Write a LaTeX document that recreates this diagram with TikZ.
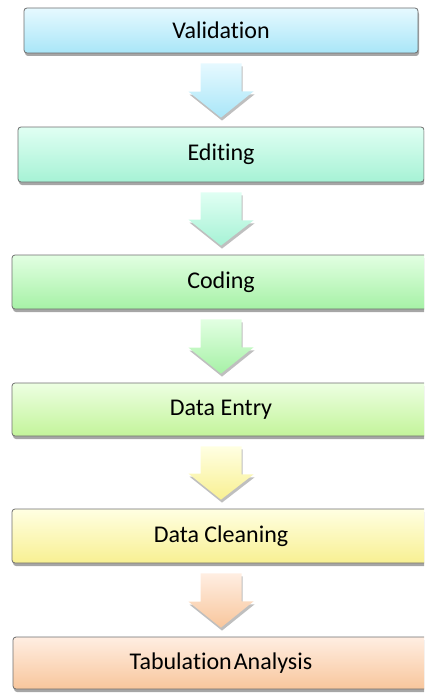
\documentclass[tikz,border=0pt]{standalone}
\usepackage{fontspec}
\setmainfont{Carlito}[Ligatures=NoCommon]
\usetikzlibrary{shadows,calc}
\definecolor{c1t}{HTML}{E6F9FF}\definecolor{c1b}{HTML}{A9E6F8}
\definecolor{c2t}{HTML}{E0FFF3}\definecolor{c2b}{HTML}{A6F2D5}
\definecolor{c3t}{HTML}{E2FFE2}\definecolor{c3b}{HTML}{A6F1A6}
\definecolor{c4t}{HTML}{EDFFE2}\definecolor{c4b}{HTML}{C3F49A}
\definecolor{c5t}{HTML}{FFFFE2}\definecolor{c5b}{HTML}{F8F092}
\definecolor{c6t}{HTML}{FFEEE2}\definecolor{c6b}{HTML}{F8C69C}
\definecolor{edge}{HTML}{6E6E6E}
\tikzset{
  stepbox/.style={draw=edge, line width=0.8pt, rounded corners=3pt,
    minimum height=#1, inner sep=0pt,
    font=\fontsize{24}{28}\selectfont,
    drop shadow={shadow xshift=1pt, shadow yshift=-3pt, opacity=0.35, fill=black}},
  blockarr/.style={draw=none,
    drop shadow={shadow xshift=1pt, shadow yshift=-3pt, opacity=0.25, fill=black}}
}
\newcommand\blockarrow[4]{% from node #1 to node #2, colours #3 #4
  \path[blockarr, top color=#3, bottom color=#4]
    ([shift={(-20.5,10)}]#1.south) -- ++(41,0) -- ++(0,28) -- ++(12,0)
    -- ($(#2.north)+(0,-9)$) -- ++(-32.5,-26) -- ++(12,0) -- cycle;
}
\begin{document}
\begin{tikzpicture}[x=1pt,y=-1pt]
\useasboundingbox (0,0) rectangle (424,693);
\clip (0,0) rectangle (424,693);
\node[stepbox=45, minimum width=394, top color=c1t, bottom color=c1b] (v) at (221,30.5) {Validation};
\node[stepbox=55, minimum width=406, top color=c2t, bottom color=c2b] (e) at (221,154.5) {Editing};
\node[stepbox=54, minimum width=418, top color=c3t, bottom color=c3b] (c) at (221,282) {Coding};
\node[stepbox=53, minimum width=418, top color=c4t, bottom color=c4b] (d) at (221,409.5) {Data Entry};
\node[stepbox=54, minimum width=418, top color=c5t, bottom color=c5b] (dc) at (221,536) {Data Cleaning};
\node[stepbox=52, minimum width=416, top color=c6t, bottom color=c6b] (t) at (221,663) {Tabulation\hspace{2pt}Analysis};
\blockarrow{v}{e}{c1t}{c1b}
\blockarrow{e}{c}{c2t}{c2b}
\blockarrow{c}{d}{c3t}{c3b}
\blockarrow{d}{dc}{c5t}{c5b}
\blockarrow{dc}{t}{c6t}{c6b}
\end{tikzpicture}
\end{document}
